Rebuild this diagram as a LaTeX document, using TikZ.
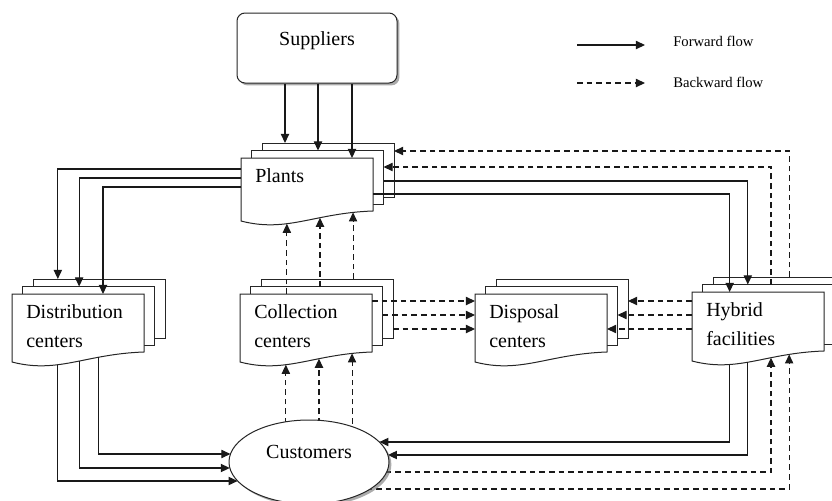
\documentclass[tikz,border=0pt]{standalone}
\usepackage{fontspec}
\setmainfont{Liberation Serif}
\usetikzlibrary{arrows.meta,calc,shapes.geometric,shadows}
\pgfdeclarelayer{front}
\pgfsetlayers{main,front}

\tikzset{
  page/.style={draw=black!85, fill=white, line width=0.75pt},
  lbl/.style={inner sep=0pt, align=left, font=\fontsize{15}{21.75}\selectfont},
  legtxt/.style={inner sep=0pt, font=\fontsize{11}{13}\selectfont},
  fwd/.style={draw=black!90, line width=0.8pt, -{Triangle[length=6.8pt,width=6.2pt]}},
  bwd/.style={fwd, dash pattern=on 4.2pt off 3pt},
  supbox/.style={rectangle, rounded corners=6pt, draw=black!85, fill=white,
    line width=0.75pt, minimum width=120pt, minimum height=52.5pt,
    drop shadow={shadow xshift=1.8pt, shadow yshift=-1.8pt, fill=black!55, opacity=0.6}},
  cust/.style={ellipse, draw=black!85, fill=white, line width=0.75pt,
    minimum width=120pt, minimum height=63pt, inner sep=0pt, outer sep=0pt,
    drop shadow={shadow xshift=1.8pt, shadow yshift=-1.8pt, fill=black!55, opacity=0.6}}
}

% A stack of three document pages: name, top-left corner of the front page,
% height of the front page at its right edge, label.
\newcommand\docstack[4]{%
  \begin{scope}[shift={#2}]
    \draw[page] (21,-15) rectangle (153,{#3-14});
    \draw[page] (10.5,-7.5) rectangle (142.5,{#3-7});
    \draw[page] (0,0) -- (0,{#3+10})
      .. controls (46,{#3+22}) and (73,{#3+2}) .. (132,#3)
      coordinate[pos=.30] (#1-w30) coordinate[pos=.37] (#1-w37)
      coordinate[pos=.455] (#1-w45) coordinate[pos=.55] (#1-w55)
      coordinate[pos=.645] (#1-w64) coordinate[pos=.70] (#1-w70)
      coordinate[pos=.78] (#1-w78) coordinate[pos=.88] (#1-w88)
      -- (132,0) -- cycle;
    \coordinate (#1-A) at (0,0);      \coordinate (#1-Ar) at (132,0);
    \coordinate (#1-B) at (10.5,-7.5); \coordinate (#1-Br) at (142.5,-7.5);
    \coordinate (#1-C) at (21,-15);   \coordinate (#1-Cr) at (153,-15);
    \node[lbl, anchor=north west] (#1) at (14,10) {#4};
  \end{scope}}

\begin{document}
\begin{tikzpicture}[x=0.75pt,y=-0.75pt]
\useasboundingbox (0,0) rectangle (832,500);

% legend
\coordinate (fw1) at (577,45); \coordinate (fw2) at (645,45);
\draw[fwd] (fw1) -- (fw2);
\node[legtxt, anchor=base west] (fwt) at (673,46) {Forward flow};
\coordinate (bw1) at (577,83); \coordinate (bw2) at (645,83);
\draw[bwd] (bw1) -- (bw2);
\node[legtxt, anchor=base west] (bwt) at (673,87) {Backward flow};

% suppliers
\node[supbox] (sup) at (317,48) {};
\node[lbl, anchor=base] (supt) at (317,45) {Suppliers};

% facility stacks
\docstack{pl}{(241,158)}{53}{Plants}
\docstack{dc}{(12,294)}{58}{Distribution\\centers}
\docstack{cc}{(240,294)}{58}{Collection\\centers}
\docstack{dp}{(475,294)}{58}{Disposal\\centers}
\docstack{hf}{(692,292)}{59}{Hybrid\\facilities}

% customers, kept above the connectors that run into it
\begin{pgfonlayer}{front}
\node[cust] (cu) at (309,462) {};
\node[lbl, anchor=base] (cut) at (309,458) {Customers};
\end{pgfonlayer}

% points on the customers ellipse
\coordinate (cuL1) at ($(cu.center)+({-80*sqrt(1-(19/42)^2)},19)$);
\coordinate (cuL2) at ($(cu.center)+({-80*sqrt(1-(6/42)^2)},6)$);
\coordinate (cuL3) at ($(cu.center)+({-80*sqrt(1-(8/42)^2)},-8)$);
\coordinate (cuR1) at ($(cu.center)+({80*sqrt(1-(20/42)^2)},-20)$);
\coordinate (cuR2) at ($(cu.center)+({80*sqrt(1-(7/42)^2)},-7)$);

% suppliers -> plants
\coordinate (s1) at ($(sup.south)+(-32,0)$);
\coordinate (s2) at ($(sup.south)+(1,0)$);
\coordinate (s3) at ($(sup.south)+(35,0)$);
\draw[fwd] (s1) -- (s1 |- pl-C);
\draw[fwd] (s2) -- (s2 |- pl-B);
\draw[fwd] (s3) -- (s3 |- pl-A);

% plants -> distribution centers
\draw[fwd] ($(pl-A)+(0,11)$) -| (dc-w37 |- dc-C);
\draw[fwd] ($(pl-A)+(0,20)$) -| (dc-w55 |- dc-B);
\draw[fwd] ($(pl-A)+(0,29)$) -| ($(dc-A)+(91,0)$);

% distribution centers -> customers
\draw[fwd] (dc-w37) |- (cuL1);
\draw[fwd] (dc-w55) |- (cuL2);
\draw[fwd] (dc-w70) |- (cuL3);

% collection centers -> plants
\draw[bwd] (pl-w37 |- cc-A) -- (pl-w37);
\draw[bwd] (pl-w64 |- cc-B) -- (pl-w64);
\draw[bwd] (pl-w88 |- cc-C) -- (pl-w88);

% customers -> collection centers
\draw[bwd] (cc-w37 |- cu.center) -- (cc-w37);
\draw[bwd] (cc-w64 |- cu.center) -- (cc-w64);
\draw[bwd] (cc-w88 |- cu.center) -- (cc-w88);

% collection centers -> disposal centers
\coordinate (c1) at ($(cc-Ar)+(0,7)$);
\coordinate (c2) at ($(cc-Br)+(0,28.5)$);
\coordinate (c3) at ($(cc-Cr)+(0,50)$);
\draw[bwd] (c1) -- (c1 -| dp-A);
\draw[bwd] (c2) -- (c2 -| dp-A);
\draw[bwd] (c3) -- (c3 -| dp-A);

% hybrid facilities -> disposal centers
\coordinate (h1) at ($(hf-A)+(0,9)$);
\coordinate (h2) at ($(hf-A)+(0,23)$);
\coordinate (h3) at ($(hf-A)+(0,37)$);
\draw[bwd] (h1) -- (h1 -| dp-Cr);
\draw[bwd] (h2) -- (h2 -| dp-Br);
\draw[bwd] (h3) -- (h3 -| dp-Ar);

% plants -> hybrid facilities
\draw[fwd] ($(pl-Br)+(0,30.5)$) -| (hf-w45 |- hf-B);
\draw[fwd] ($(pl-Ar)+(0,36)$) -| (hf-w30 |- hf-A);

% hybrid facilities -> plants
\draw[bwd] (hf-w78 |- hf-C) |- ($(pl-Cr)+(0,8)$);
\draw[bwd] (hf-w64 |- hf-B) |- ($(pl-Br)+(0,16.5)$);

% hybrid facilities -> customers
\draw[fwd] (hf-w30) |- (cuR1);
\draw[fwd] (hf-w45) |- (cuR2);

% customers -> hybrid facilities
\draw[bwd] ($(cu.center)+(0,10)$) -| (hf-w64);
\draw[bwd] ($(cu.center)+(0,27)$) -| (hf-w78);
\end{tikzpicture}
\end{document}
